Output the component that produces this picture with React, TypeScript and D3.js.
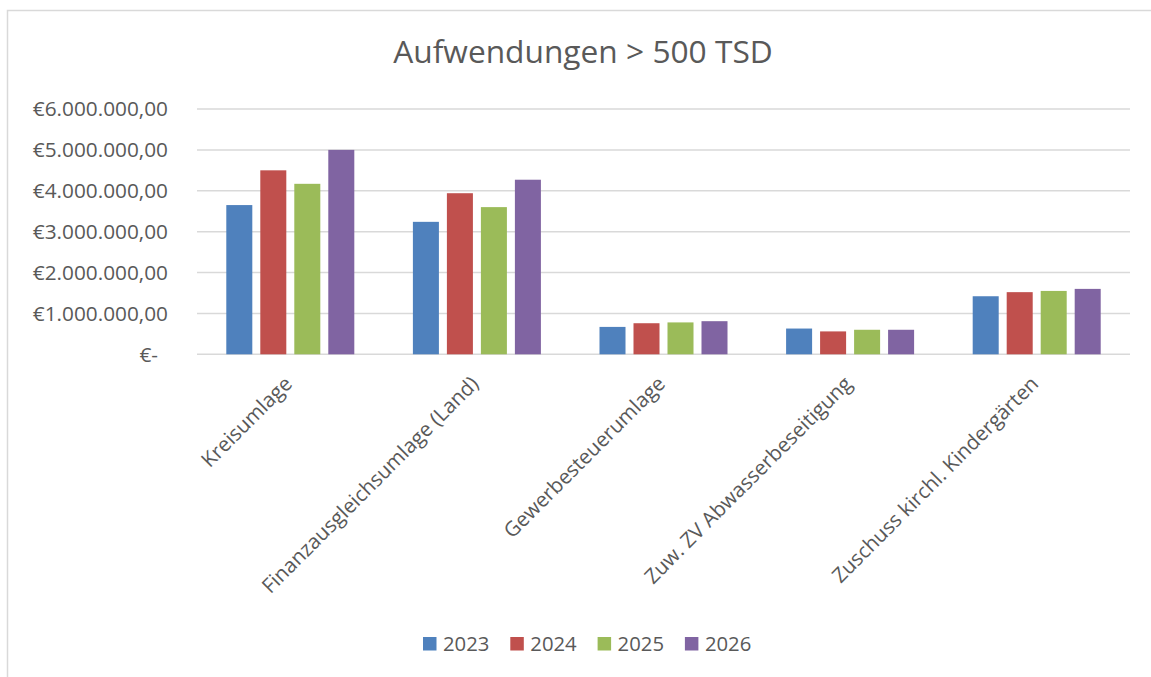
import React from "react";
import * as d3 from "d3";

const categories = [
  "Kreisumlage",
  "Finanzausgleichsumlage (Land)",
  "Gewerbesteuerumlage",
  "Zuw. ZV Abwasserbeseitigung",
  "Zuschuss kirchl. Kindergärten",
];
const years = ["2023", "2024", "2025", "2026"];
const values2023 = [3650000, 3240000, 670000, 630000, 1420000];
const values2024 = [4500000, 3940000, 760000, 560000, 1520000];
const values2025 = [4170000, 3600000, 780000, 600000, 1550000];
const values2026 = [5000000, 4270000, 810000, 600000, 1600000];
const yTicks = [0, 1000000, 2000000, 3000000, 4000000, 5000000, 6000000];
const colors = ["#4F81BD", "#C0504D", "#9BBB59", "#8064A2"];

const series = [values2023, values2024, values2025, values2026];

const W = 1151;
const H = 677;
const FONT = "'Open Sans', 'DejaVu Sans', sans-serif";
const TEXT = "#595959";

const locale = d3.formatLocale({
  decimal: ",",
  thousands: ".",
  grouping: [3],
  currency: ["€", ""],
});
const fmt = locale.format("$,.2f");

export default function App() {
  const x0 = d3
    .scaleBand<string>()
    .domain(categories)
    .range([197, 1130])
    .paddingInner(0.314)
    .paddingOuter(0.157);
  const x1 = d3
    .scaleBand<string>()
    .domain(years)
    .range([0, x0.bandwidth()])
    .paddingInner(0.235);
  const y = d3.scaleLinear().domain([0, 6000000]).range([354.3, 109]);

  return (
    <svg
      width={W}
      height={H}
      style={{ position: "absolute", left: 0, top: 0, background: "#fff" }}
    >
      <rect x={7.5} y={10.5} width={1200} height={700} fill="#fff" stroke="#d9d9d9" strokeWidth={1.5} />

      <text
        x={583}
        y={63}
        textAnchor="middle"
        fontFamily={FONT}
        fontSize={31.7}
        fill={TEXT}
      >
        Aufwendungen &gt; 500 TSD
      </text>

      {/* grid + y labels */}
      {yTicks.map((t) => (
        <g key={t}>
          <line
            x1={197}
            x2={1130}
            y1={y(t)}
            y2={y(t)}
            stroke="#d9d9d9"
            strokeWidth={1.5}
          />
          <text
            x={t === 0 ? 158 : 168}
            y={y(t)}
            dy="0.36em"
            textAnchor="end"
            fontFamily={FONT}
            fontSize={20.8}
            fill={TEXT}
          >
            {t === 0 ? "€-" : fmt(t)}
          </text>
        </g>
      ))}

      {/* bars */}
      {categories.map((c, i) => (
        <g key={c} transform={`translate(${x0(c)},0)`}>
          {series.map((s, j) => (
            <rect
              key={years[j]}
              x={x1(years[j])}
              y={y(s[i])}
              width={x1.bandwidth()}
              height={y(0) - y(s[i])}
              fill={colors[j]}
            />
          ))}
        </g>
      ))}

      {/* category labels */}
      {categories.map((c) => (
        <text
          key={c}
          transform={`translate(${(x0(c) as number) + x0.bandwidth() / 2 + 3},385) rotate(-45)`}
          textAnchor="end"
          fontFamily={FONT}
          fontSize={20.5}
          fill={TEXT}
        >
          {c}
        </text>
      ))}

      {/* legend */}
      {years.map((yr, j) => (
        <g key={yr} transform={`translate(${423 + j * 87.3},637)`}>
          <rect width={13.5} height={13.5} fill={colors[j]} />
          <text x={20} y={14} fontFamily={FONT} fontSize={20.3} fill={TEXT}>
            {yr}
          </text>
        </g>
      ))}
    </svg>
  );
}
